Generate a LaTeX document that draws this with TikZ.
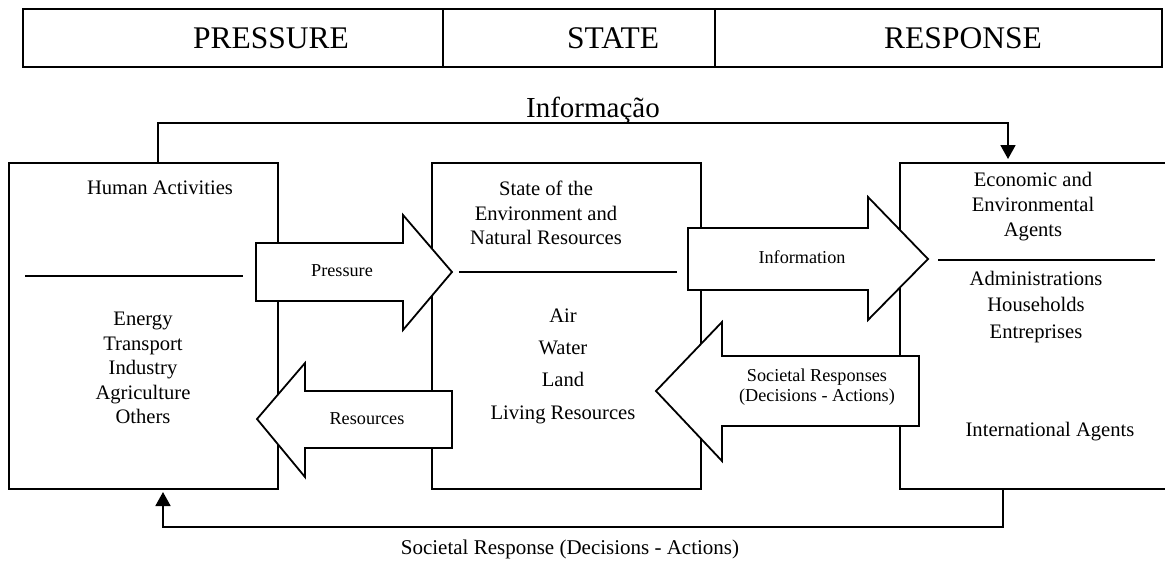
\documentclass[tikz,border=0pt]{standalone}
\usepackage{fontspec}
\setmainfont{Liberation Serif}
\usetikzlibrary{arrows.meta}
\tikzset{
  frame/.style={draw, line width=1.8pt, rectangle, inner sep=0pt, outer sep=0pt},
  dividerline/.style={line width=1.1pt},
  bigarrow/.style={draw, fill=white, line width=1.8pt, line join=miter},
  boxtext/.style={font=\fontsize{20.6}{24.5}\selectfont, align=center, inner sep=0pt},
  arrowtext/.style={font=\fontsize{18.2}{20}\selectfont, align=center, inner sep=0pt},
  bartext/.style={font=\fontsize{31.5}{34}\selectfont, inner sep=0pt},
  feedback/.style={line width=1.8pt, -{Triangle[width=15pt,length=14pt]}},
}
\begin{document}
\begin{tikzpicture}[x=1pt,y=-1pt]
\useasboundingbox[fill=white] (0,0) rectangle (1165,560);

% top bar
\node[frame, minimum width=420pt, minimum height=58pt] (cellP) at (233,38) {};
\node[frame, minimum width=272pt, minimum height=58pt] (cellS) at (579,38) {};
\node[frame, minimum width=447pt, minimum height=58pt] (cellR) at (938.5,38) {};
\node[bartext] (tP) at (271,38) {PRESSURE};
\node[bartext] (tS) at (613,38) {STATE};
\node[bartext] (tR) at (963,38) {RESPONSE};

% boxes
\node[frame, minimum width=269pt, minimum height=326pt] (human) at (143.5,326) {};
\node[frame, minimum width=269pt, minimum height=326pt] (state) at (566.5,326) {};
\node[rectangle, inner sep=0pt, outer sep=0pt, minimum width=265pt, minimum height=326pt] (agents) at (1032.5,326) {};
\draw[line width=1.8pt] (agents.north east) -- (agents.north west) -- (agents.south west) -- (agents.south east);

% dividers
\coordinate (hd1) at (25,276); \coordinate (hd2) at (243,276);
\draw[dividerline] (hd1) -- (hd2);
\coordinate (sd1) at (459,272); \coordinate (sd2) at (677,272);
\draw[dividerline] (sd1) -- (sd2);
\coordinate (ad1) at (938,260); \coordinate (ad2) at (1155,260);
\draw[dividerline] (ad1) -- (ad2);

% box texts
\node[boxtext] (humtitle) at (160,188) {Human Activities};
\node[boxtext] (humlist) at (143,368) {Energy\\Transport\\Industry\\Agriculture\\Others};
\node[boxtext] (sttitle) at (546,213) {State of the\\Environment and\\Natural Resources};
\node[boxtext, font=\fontsize{20.6}{32.3}\selectfont] (stlist) at (563,366) {Air\\Water\\Land\\Living Resources};
\node[boxtext, font=\fontsize{20.6}{25}\selectfont] (agtitle) at (1033,207) {Economic and\\Environmental\\Agents};
\node[boxtext, font=\fontsize{20.6}{26.5}\selectfont] (aglist) at (1036,307) {Administrations\\Households\\Entreprises};
\node[boxtext] (intl) at (1050,432) {International Agents};

% block arrows
\draw[bigarrow] (256,243) -- (403,243) -- (403,215) -- (452,272) -- (403,330) -- (403,301) -- (256,301) -- cycle;
\node[arrowtext] (lpressure) at (342,271) {Pressure};

\draw[bigarrow] (688,228) -- (868,228) -- (868,197) -- (928,259) -- (868,320) -- (868,290) -- (688,290) -- cycle;
\node[arrowtext] (linfo) at (802,257) {Information};

\draw[bigarrow] (919,356) -- (722,356) -- (722,322) -- (656,391) -- (722,461) -- (722,426) -- (919,426) -- cycle;
\node[arrowtext, font=\fontsize{18.2}{20.5}\selectfont] (lsoc) at (817,387) {Societal Responses\\(Decisions - Actions)};

\draw[bigarrow] (452,391) -- (305,391) -- (305,363) -- (257,419) -- (305,477) -- (305,448) -- (452,448) -- cycle;
\node[arrowtext] (lres) at (367,419) {Resources};

% feedback loops
\coordinate (topL) at (158,163);
\coordinate (topR) at (1008,163);
\draw[feedback, shorten >=4pt] (topL) -- (158,123) -- (1008,123) -- (topR);
\node[font=\fontsize{29}{32}\selectfont, inner sep=0pt] (informacao) at (593,110) {Informação};

\coordinate (botR) at (1003,489);
\coordinate (botL) at (163,489);
\draw[feedback, shorten >=3pt] (botR) -- (1003,527) -- (163,527) -- (botL);
\node[font=\fontsize{21}{24}\selectfont, inner sep=0pt] (socresp) at (570,549) {Societal Response (Decisions - Actions)};
\end{tikzpicture}
\end{document}
